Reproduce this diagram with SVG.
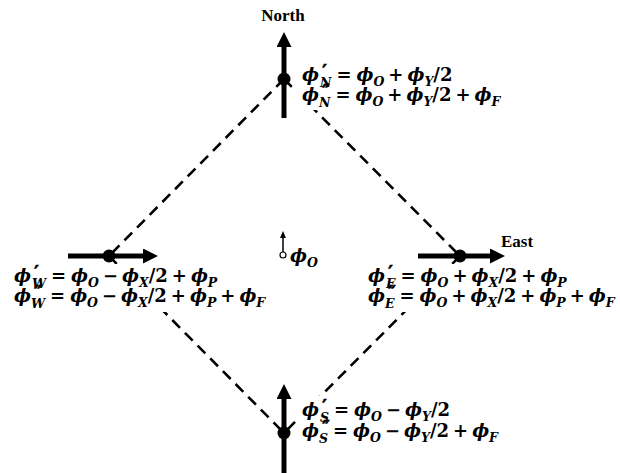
<svg xmlns="http://www.w3.org/2000/svg" width="620" height="473" viewBox="0 0 620 473">
<style>
.bg{fill:#fff}
.dash{stroke:#000;stroke-width:2.6;stroke-dasharray:11 7;fill:none}
.shaft{stroke:#000;stroke-width:5;fill:none}
.dot{fill:#000}
.m{font-family:"DejaVu Serif",serif;font-size:18px;font-weight:bold;font-style:italic;fill:#000}
.u{font-style:normal}
.s{font-size:12.5px}
.p{font-family:"DejaVu Sans",sans-serif;font-size:19px;font-weight:bold;font-style:normal;stroke:#000;stroke-width:0.5}
.lbl{font-family:"Liberation Serif","DejaVu Serif",serif;font-size:17px;font-weight:bold;fill:#000}
</style>
<defs>
<marker id="ah" markerUnits="userSpaceOnUse" markerWidth="16" markerHeight="16" refX="0" refY="7.5" orient="auto"><path d="M0,0 L15,7.5 L0,15 z" fill="#000"/></marker>
<marker id="sh" markerUnits="userSpaceOnUse" markerWidth="8" markerHeight="8" refX="0" refY="3" orient="auto"><path d="M0,0 L7,3 L0,6 z" fill="#000"/></marker>
</defs>
<g id="connectors">
<line class="dash" x1="284" y1="79" x2="109" y2="256"/>
<line class="dash" x1="284" y1="79" x2="460" y2="256"/>
<line class="dash" x1="109" y1="256" x2="284" y2="433"/>
<line class="dash" x1="460" y1="256" x2="284" y2="433"/>
</g>
<g id="north">
<line class="shaft" x1="284" y1="118" x2="284" y2="47" marker-end="url(#ah)"/>
<circle class="dot" cx="284" cy="79" r="6.5"/>
<text class="lbl" x="283" y="21" text-anchor="middle">North</text>
<rect class="bg" x="295" y="62" width="210" height="48"/>
<text class="m" x="302" y="81">ϕ<tspan class="p" dx="3" dy="-3">′</tspan><tspan class="s" dx="-7" dy="9">N</tspan><tspan class="u" dy="-6" dx="5">=</tspan><tspan dx="5">ϕ</tspan><tspan class="s" dy="5">O</tspan><tspan class="u" dy="-5" dx="4">+</tspan><tspan dx="4">ϕ</tspan><tspan class="s" dy="5">Y</tspan><tspan class="u" dy="-5">/2</tspan></text>
<text class="m" x="302" y="101">ϕ<tspan class="p" dx="3" dy="-3">′</tspan><tspan class="p" dx="-2">′</tspan><tspan class="s" dx="-11" dy="9">N</tspan><tspan class="u" dy="-6" dx="5">=</tspan><tspan dx="5">ϕ</tspan><tspan class="s" dy="5">O</tspan><tspan class="u" dy="-5" dx="4">+</tspan><tspan dx="4">ϕ</tspan><tspan class="s" dy="5">Y</tspan><tspan class="u" dy="-5">/2</tspan><tspan class="u" dx="4">+</tspan><tspan dx="4">ϕ</tspan><tspan class="s" dy="5">F</tspan></text>
</g>
<g id="west">
<line class="shaft" x1="68" y1="256" x2="143" y2="256" marker-end="url(#ah)"/>
<circle class="dot" cx="109" cy="256" r="6.5"/>
<rect class="bg" x="8" y="264" width="318" height="48"/>
<text class="m" x="14" y="282">ϕ<tspan class="p" dx="3" dy="-3">′</tspan><tspan class="s" dx="-7" dy="9">W</tspan><tspan class="u" dy="-6" dx="5">=</tspan><tspan dx="5">ϕ</tspan><tspan class="s" dy="5">O</tspan><tspan class="u" dy="-5" dx="4">−</tspan><tspan dx="4">ϕ</tspan><tspan class="s" dy="5">X</tspan><tspan class="u" dy="-5">/2</tspan><tspan class="u" dx="4">+</tspan><tspan dx="4">ϕ</tspan><tspan class="s" dy="5">P</tspan></text>
<text class="m" x="14" y="302">ϕ<tspan class="p" dx="3" dy="-3">′</tspan><tspan class="p" dx="-2">′</tspan><tspan class="s" dx="-11" dy="9">W</tspan><tspan class="u" dy="-6" dx="5">=</tspan><tspan dx="5">ϕ</tspan><tspan class="s" dy="5">O</tspan><tspan class="u" dy="-5" dx="4">−</tspan><tspan dx="4">ϕ</tspan><tspan class="s" dy="5">X</tspan><tspan class="u" dy="-5">/2</tspan><tspan class="u" dx="4">+</tspan><tspan dx="4">ϕ</tspan><tspan class="s" dy="5">P</tspan><tspan class="u" dy="-5" dx="4">+</tspan><tspan dx="4">ϕ</tspan><tspan class="s" dy="5">F</tspan></text>
</g>
<g id="east">
<line class="shaft" x1="418" y1="256" x2="490" y2="256" marker-end="url(#ah)"/>
<circle class="dot" cx="460" cy="256" r="6.5"/>
<text class="lbl" x="501" y="247">East</text>
<rect class="bg" x="362" y="264" width="256" height="48"/>
<text class="m" x="368" y="282">ϕ<tspan class="p" dx="3" dy="-3">′</tspan><tspan class="s" dx="-7" dy="9">E</tspan><tspan class="u" dy="-6" dx="5">=</tspan><tspan dx="5">ϕ</tspan><tspan class="s" dy="5">O</tspan><tspan class="u" dy="-5" dx="4">+</tspan><tspan dx="4">ϕ</tspan><tspan class="s" dy="5">X</tspan><tspan class="u" dy="-5">/2</tspan><tspan class="u" dx="4">+</tspan><tspan dx="4">ϕ</tspan><tspan class="s" dy="5">P</tspan></text>
<text class="m" x="368" y="302">ϕ<tspan class="p" dx="3" dy="-3">′</tspan><tspan class="p" dx="-2">′</tspan><tspan class="s" dx="-11" dy="9">E</tspan><tspan class="u" dy="-6" dx="5">=</tspan><tspan dx="5">ϕ</tspan><tspan class="s" dy="5">O</tspan><tspan class="u" dy="-5" dx="4">+</tspan><tspan dx="4">ϕ</tspan><tspan class="s" dy="5">X</tspan><tspan class="u" dy="-5">/2</tspan><tspan class="u" dx="4">+</tspan><tspan dx="4">ϕ</tspan><tspan class="s" dy="5">P</tspan><tspan class="u" dy="-5" dx="4">+</tspan><tspan dx="4">ϕ</tspan><tspan class="s" dy="5">F</tspan></text>
</g>
<g id="south">
<line class="shaft" x1="284" y1="473" x2="284" y2="399" marker-end="url(#ah)"/>
<circle class="dot" cx="284" cy="433" r="6.5"/>
<rect class="bg" x="298" y="396" width="200" height="48"/>
<text class="m" x="302" y="416">ϕ<tspan class="p" dx="3" dy="-3">′</tspan><tspan class="s" dx="-7" dy="9">S</tspan><tspan class="u" dy="-6" dx="5">=</tspan><tspan dx="5">ϕ</tspan><tspan class="s" dy="5">O</tspan><tspan class="u" dy="-5" dx="4">−</tspan><tspan dx="4">ϕ</tspan><tspan class="s" dy="5">Y</tspan><tspan class="u" dy="-5">/2</tspan></text>
<text class="m" x="302" y="437">ϕ<tspan class="p" dx="3" dy="-3">′</tspan><tspan class="p" dx="-2">′</tspan><tspan class="s" dx="-11" dy="9">S</tspan><tspan class="u" dy="-6" dx="5">=</tspan><tspan dx="5">ϕ</tspan><tspan class="s" dy="5">O</tspan><tspan class="u" dy="-5" dx="4">−</tspan><tspan dx="4">ϕ</tspan><tspan class="s" dy="5">Y</tspan><tspan class="u" dy="-5">/2</tspan><tspan class="u" dx="4">+</tspan><tspan dx="4">ϕ</tspan><tspan class="s" dy="5">F</tspan></text>
</g>
<g id="origin">
<line x1="283" y1="252" x2="283" y2="238" stroke="#000" stroke-width="1.5" marker-end="url(#sh)"/>
<circle cx="283" cy="255" r="3" fill="#fff" stroke="#000" stroke-width="1.2"/>
<text class="m" x="290" y="262">ϕ<tspan class="s" dy="5">O</tspan></text>
</g>
</svg>
